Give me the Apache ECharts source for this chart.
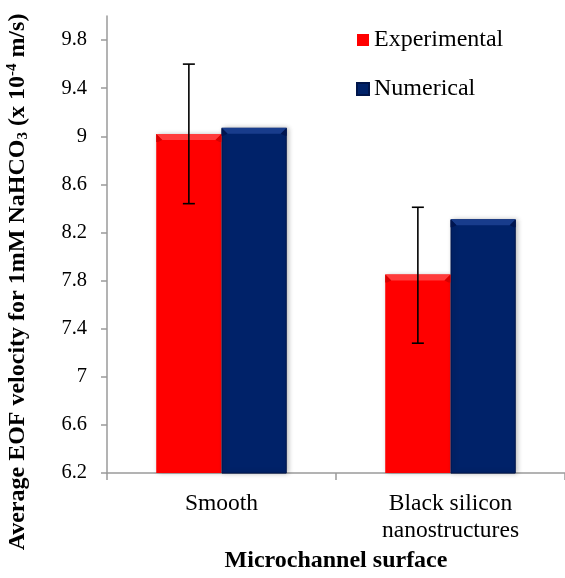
<!DOCTYPE html>
<html>
<head>
<meta charset="utf-8">
<script src="https://cdn.jsdelivr.net/npm/echarts@6/dist/echarts.min.js"></script>
<style>
html,body{margin:0;padding:0;background:#fff;}
#chart{width:565px;height:578px;}
</style>
</head>
<body>
<div id="chart"></div>
<script>
var categories = ['Smooth', 'Black silicon\nnanostructures'];
var experimental = [9.02, 7.85];
var numerical = [9.07, 8.31];
var expErrLow = [8.44, 7.28];
var expErrHigh = [9.60, 8.41];
var yTicks = [6.2, 6.6, 7, 7.4, 7.8, 8.2, 8.6, 9, 9.4, 9.8];

var FONT = "'Liberation Serif', 'Times New Roman', serif";
var CAT_GAP = 0.43;

var errData = categories.map(function (c, i) { return [i, expErrLow[i], expErrHigh[i]]; });
var bevelData = categories.map(function (c, i) { return [i, experimental[i], numerical[i]]; });

var chart = echarts.init(document.getElementById('chart'), null, {renderer: 'canvas'});
chart.setOption({
  animation: false,
  backgroundColor: '#ffffff',
  grid: {left: 107, top: 16, right: -8, bottom: 102},
  legend: {
    orient: 'vertical',
    left: 351,
    top: 22,
    itemWidth: 12,
    itemHeight: 12,
    itemGap: 23,
    icon: 'rect',
    data: ['Experimental', 'Numerical'],
    textStyle: {fontFamily: FONT, fontSize: 24, color: '#000', lineHeight: 26}
  },
  xAxis: {
    type: 'category',
    data: categories,
    axisLine: {lineStyle: {color: '#9a9a9a', width: 1.5}},
    axisTick: {show: true, length: 7, lineStyle: {color: '#9a9a9a', width: 1.5}},
    axisLabel: {fontFamily: FONT, fontSize: 23.5, color: '#000', lineHeight: 27, margin: 17},
    name: 'Microchannel surface',
    nameLocation: 'middle',
    nameGap: 75,
    nameTextStyle: {fontFamily: FONT, fontSize: 24, fontWeight: 'bold', color: '#000'}
  },
  yAxis: {
    type: 'value',
    min: 6.2,
    max: 10,
    interval: 0.4,
    splitLine: {show: false},
    axisLine: {show: true, lineStyle: {color: '#9a9a9a', width: 1.5}},
    axisTick: {show: true, length: 6, lineStyle: {color: '#9a9a9a', width: 1.5}, customValues: yTicks},
    axisLabel: {fontFamily: FONT, fontSize: 20.5, color: '#000', margin: 20, customValues: yTicks}
  },
  graphic: [{
    type: 'text',
    x: 18,
    y: 282,
    rotation: Math.PI / 2,
    style: {
      text: '{b|Average EOF velocity for 1mM NaHCO}{sub|3}{b| (x 10}{sup|-4}{b| m/s)}',
      align: 'center',
      verticalAlign: 'middle',
      fontFamily: FONT,
      fontSize: 24,
      fontWeight: 'bold',
      fill: '#000',
      rich: {
        b: {fontFamily: FONT, fontSize: 24, fontWeight: 'bold', fill: '#000', lineHeight: 26, verticalAlign: 'middle'},
        sub: {fontFamily: FONT, fontSize: 15, fontWeight: 'bold', fill: '#000', lineHeight: 26, verticalAlign: 'bottom'},
        sup: {fontFamily: FONT, fontSize: 15, fontWeight: 'bold', fill: '#000', lineHeight: 26, verticalAlign: 'top'}
      }
    }
  }],
  series: [{
    name: 'Experimental',
    type: 'bar',
    data: experimental,
    barGap: '0%',
    barCategoryGap: (CAT_GAP * 100) + '%',
    itemStyle: {color: '#ff0000', shadowColor: 'rgba(0,0,0,0.3)', shadowBlur: 5, shadowOffsetX: 2}
  }, {
    name: 'Numerical',
    type: 'bar',
    data: numerical,
    itemStyle: {color: '#002269', borderColor: '#00154a', borderWidth: 1, shadowColor: 'rgba(0,0,0,0.3)', shadowBlur: 5, shadowOffsetX: 2}
  }, {
    name: 'bevel',
    type: 'custom',
    z: 5,
    silent: true,
    data: bevelData,
    renderItem: function (params, api) {
      var cat = api.value(0);
      var band = api.size([1, 0])[0];
      var barW = band * (1 - CAT_GAP) / 2;
      var c = api.coord([cat, api.value(1)]);
      var n = api.coord([cat, api.value(2)]);
      var b = 6, h = 6;
      function bevel(x0, y, light, dark) {
        var x1 = x0 + barW;
        return [
          {type: 'polygon', shape: {points: [[x0, y], [x1, y], [x1 - b, y + h], [x0 + b, y + h]]}, style: {fill: light}},
          {type: 'polygon', shape: {points: [[x0, y], [x0 + b, y + h], [x0 + 2, y + h + 2], [x0, y + h + 2]]}, style: {fill: dark}},
          {type: 'polygon', shape: {points: [[x1, y], [x1 - b, y + h], [x1 - 2, y + h + 2], [x1, y + h + 2]]}, style: {fill: dark}}
        ];
      }
      var kids = bevel(c[0] - barW, c[1], '#ff3b3b', '#d80000')
        .concat(bevel(n[0], n[1], '#183c8c', '#001550'));
      return {type: 'group', children: kids};
    }
  }, {
    name: 'err',
    type: 'custom',
    z: 10,
    silent: true,
    data: errData,
    renderItem: function (params, api) {
      var cat = api.value(0);
      var top = api.coord([cat, api.value(2)]);
      var bot = api.coord([cat, api.value(1)]);
      var band = api.size([1, 0])[0];
      var barW = band * (1 - CAT_GAP) / 2;
      var x = top[0] - barW / 2;
      var cap = 6;
      var st = {stroke: '#000', lineWidth: 1.6};
      return {
        type: 'group',
        children: [
          {type: 'line', shape: {x1: x, y1: top[1], x2: x, y2: bot[1]}, style: st},
          {type: 'line', shape: {x1: x - cap, y1: top[1], x2: x + cap, y2: top[1]}, style: st},
          {type: 'line', shape: {x1: x - cap, y1: bot[1], x2: x + cap, y2: bot[1]}, style: st}
        ]
      };
    }
  }]
});
</script>
</body>
</html>
